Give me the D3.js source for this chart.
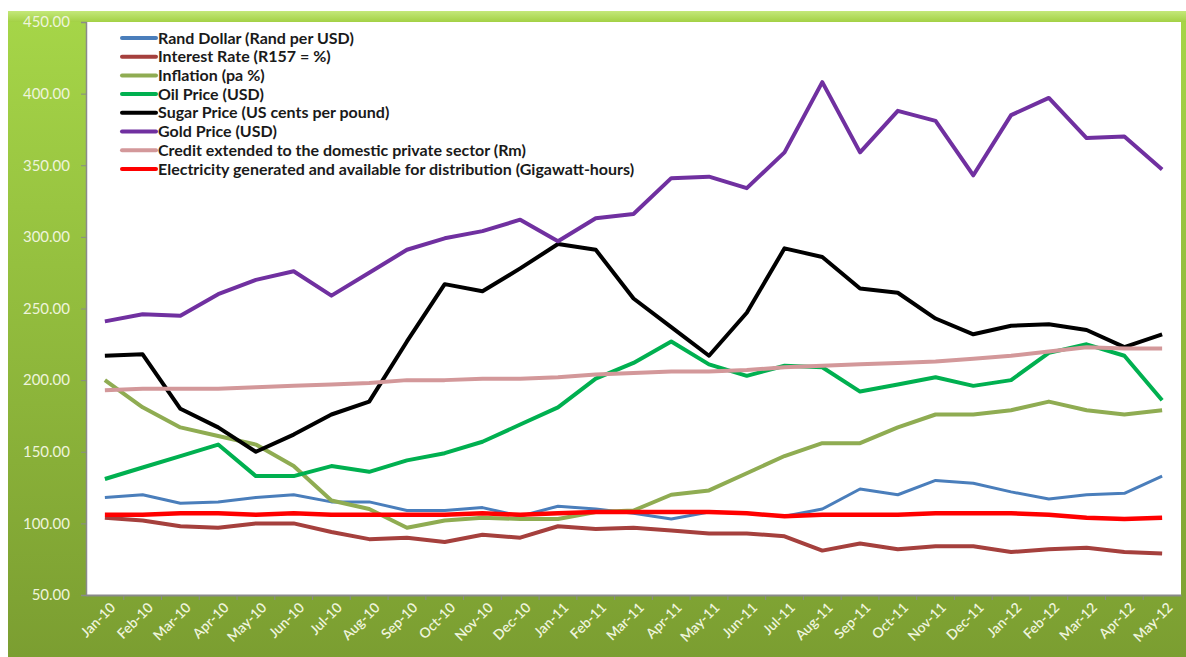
<!DOCTYPE html>
<html>
<head>
<meta charset="utf-8" />
<script src="https://d3js.org/d3.v7.min.js"></script>
<style>
  body { margin: 0; background: #fff; }
  svg text { font-family: Lato, "Open Sans", sans-serif; }
</style>
</head>
<body>
<svg id="chart" width="1186" height="657"></svg>
<script>
  // months on the category axis
  var months = ["Jan-10","Feb-10","Mar-10","Apr-10","May-10","Jun-10","Jul-10","Aug-10","Sep-10","Oct-10","Nov-10","Dec-10",
    "Jan-11","Feb-11","Mar-11","Apr-11","May-11","Jun-11","Jul-11","Aug-11","Sep-11","Oct-11","Nov-11","Dec-11",
    "Jan-12","Feb-12","Mar-12","Apr-12","May-12"];

  var yTicks = [50, 100, 150, 200, 250, 300, 350, 400, 450];

  // series
  var randDollar = [118,120,114,115,118,120,115,115,109,109,111,105,112,110,107,103,108,107,105,110,124,120,130,128,122,117,120,121,133];
  var interestRate = [104,102,98,97,100,100,94,89,90,87,92,90,98,96,97,95,93,93,91,81,86,82,84,84,80,82,83,80,79];
  var inflation = [200,181,167,161,155,140,116,110,97,102,104,103,103,108,109,120,123,135,147,156,156,167,176,176,179,185,179,176,179];
  var oilPrice = [131,139,147,155,133,133,140,136,144,149,157,169,181,201,212,227,211,203,210,209,192,197,202,196,200,219,225,217,186];
  var sugarPrice = [217,218,180,167,150,162,176,185,227,267,262,278,295,291,257,237,217,247,292,286,264,261,243,232,238,239,235,223,232];
  var goldPrice = [241,246,245,260,270,276,259,275,291,299,304,312,297,313,316,341,342,334,359,408,359,388,381,343,385,397,369,370,347];
  var credit = [193,194,194,194,195,196,197,198,200,200,201,201,202,204,205,206,206,207,209,210,211,212,213,215,217,220,223,222,222];
  var electricity = [106,106,107,107,106,107,106,106,106,106,107,106,107,108,108,108,108,107,105,106,106,106,107,107,107,106,104,103,104];

  var series = [
    { name: "Rand Dollar (Rand per USD)", values: randDollar, color: "#4a7ebb", width: 3 },
    { name: "Interest Rate (R157 = %)", values: interestRate, color: "#a5403d", width: 4 },
    { name: "Inflation (pa %)", values: inflation, color: "#8fac52", width: 4 },
    { name: "Oil Price (USD)", values: oilPrice, color: "#00b050", width: 4 },
    { name: "Sugar Price (US cents per pound)", values: sugarPrice, color: "#000000", width: 4 },
    { name: "Gold Price (USD)", values: goldPrice, color: "#7030a0", width: 4 },
    { name: "Credit extended to the domestic private sector (Rm)", values: credit, color: "#d3989a", width: 4 },
    { name: "Electricity generated and available for distribution (Gigawatt-hours)", values: electricity, color: "#ff0000", width: 4.5 }
  ];

  var svg = d3.select("#chart");
  var plot = { left: 86, top: 22, right: 1181, bottom: 595 };

  // green frame
  var defs = svg.append("defs");
  var grad = defs.append("linearGradient").attr("id", "frameGrad")
    .attr("x1", 0).attr("y1", 0).attr("x2", 0).attr("y2", 1);
  grad.append("stop").attr("offset", "0%").attr("stop-color", "#a6d648");
  grad.append("stop").attr("offset", "100%").attr("stop-color", "#7b9e31");
  var topGrad = defs.append("linearGradient").attr("id", "topGrad")
    .attr("x1", 0).attr("y1", 0).attr("x2", 0).attr("y2", 1);
  topGrad.append("stop").attr("offset", "0%").attr("stop-color", "#c4e87a");
  topGrad.append("stop").attr("offset", "100%").attr("stop-color", "#a3d145");

  svg.append("rect").attr("x", 8).attr("y", 11).attr("width", 1178).attr("height", 646)
    .attr("fill", "url(#frameGrad)");
  svg.append("rect").attr("x", 8).attr("y", 11).attr("width", 1178).attr("height", 11)
    .attr("fill", "url(#topGrad)");

  svg.append("rect")
    .attr("x", plot.left).attr("y", plot.top)
    .attr("width", plot.right - plot.left).attr("height", plot.bottom - plot.top)
    .attr("fill", "#fff");

  var x = d3.scaleBand().domain(months).range([plot.left, plot.right]).padding(0);
  var y = d3.scaleLinear().domain([50, 450]).range([plot.bottom, plot.top]);

  // y axis
  var yAxis = svg.append("g")
    .attr("transform", "translate(" + plot.left + ",0)")
    .call(d3.axisLeft(y).tickValues(yTicks).tickFormat(d3.format(".2f")).tickSize(5).tickPadding(11));
  yAxis.select(".domain").attr("stroke", "#8a8a8a").attr("stroke-width", 1.5);
  yAxis.selectAll(".tick line").attr("stroke", "#8a8a8a");
  yAxis.selectAll("text").attr("fill", "#eef4dc").attr("font-size", 15);

  // x axis
  var xAxis = svg.append("g")
    .attr("transform", "translate(0," + plot.bottom + ")")
    .call(d3.axisBottom(x).tickSizeOuter(0).tickSize(0));
  xAxis.select(".domain").attr("stroke", "#8a8a8a").attr("stroke-width", 2);
  xAxis.selectAll(".tick text")
    .attr("fill", "#eef4dc").attr("font-size", 14).attr("font-weight", 600)
    .attr("text-anchor", "end")
    .attr("transform", "translate(8,10) rotate(-45)")
    .attr("dy", "0.35em").attr("y", 0).attr("x", 0);
  // boundary ticks between categories
  xAxis.selectAll(".bound")
    .data(months.slice(1))
    .enter().append("line")
    .attr("x1", function (d) { return x(d); })
    .attr("x2", function (d) { return x(d); })
    .attr("y1", 0).attr("y2", 5)
    .attr("stroke", "#8a8a8a");

  var line = d3.line()
    .x(function (d, i) { return x(months[i]) + x.bandwidth() / 2; })
    .y(function (d) { return y(d); });

  svg.append("g").selectAll("path")
    .data(series)
    .enter().append("path")
    .attr("d", function (s) { return line(s.values); })
    .attr("fill", "none")
    .attr("stroke", function (s) { return s.color; })
    .attr("stroke-width", function (s) { return s.width; })
    .attr("stroke-linejoin", "round");

  // legend
  var legend = svg.append("g").attr("transform", "translate(122,38)");
  var item = legend.selectAll("g")
    .data(series)
    .enter().append("g")
    .attr("transform", function (d, i) { return "translate(0," + (i * 18.7) + ")"; });
  item.append("line")
    .attr("x1", 0).attr("x2", 34).attr("y1", 0).attr("y2", 0)
    .attr("stroke", function (d) { return d.color; })
    .attr("stroke-width", 4).attr("stroke-linecap", "round");
  item.append("text")
    .attr("x", 36).attr("y", 0).attr("dy", "0.35em")
    .attr("font-size", 16).attr("font-weight", "bold").attr("fill", "#1a1a1a")
    .text(function (d) { return d.name; });
</script>
</body>
</html>
